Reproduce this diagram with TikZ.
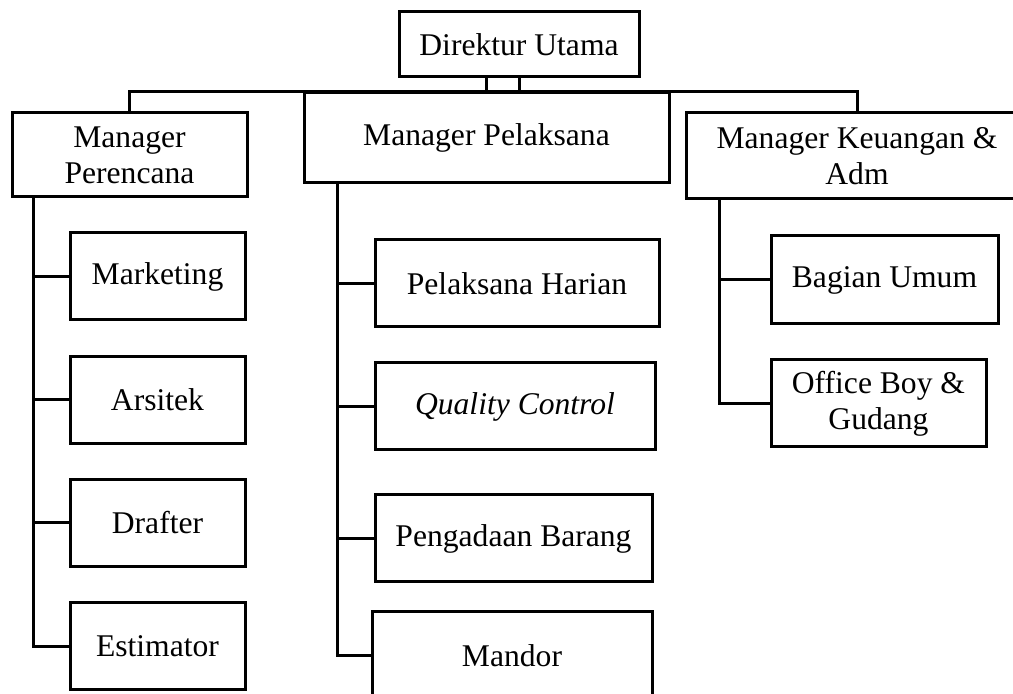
\documentclass[tikz,border=0pt]{standalone}
\usepackage{fontspec}
\setmainfont{Liberation Serif}
\begin{document}
\begin{tikzpicture}[x=0.5pt, y=-0.5pt,
  box/.style={draw, line width=1.5pt, align=center, inner sep=0pt,
    font=\fontsize{15.8}{18}\selectfont},
  link/.style={line width=1.5pt}]
\useasboundingbox (0,0) rectangle (1013,694);
\clip (0,0) rectangle (1013,694);

% top level
\node[box, minimum width=120pt, minimum height=32.5pt] (dir) at (519,44.5) {Direktur Utama};

% managers
\node[box, minimum width=117.5pt, minimum height=42pt] (mper) at (129.5,155) {Manager\\Perencana};
\node[box, minimum width=182.5pt, minimum height=45pt] (mpel) at (486.5,138) {Manager Pelaksana};
\node[box, minimum width=171pt, minimum height=43pt] (mkeu) at (857,156) {Manager Keuangan \&\\Adm};

% staff of perencana
\node[box, minimum width=87.5pt, minimum height=43.5pt] (mkt) at (157.5,276.5) {Marketing};
\node[box, minimum width=87.5pt, minimum height=43.5pt] (ars) at (157.5,400) {Arsitek};
\node[box, minimum width=87.5pt, minimum height=43.5pt] (dra) at (157.5,523) {Drafter};
\node[box, minimum width=87.5pt, minimum height=43.5pt] (est) at (157.5,646.5) {Estimator};

% staff of pelaksana
\node[box, minimum width=142pt, minimum height=43.5pt] (phar) at (517,283.5) {Pelaksana Harian};
\node[box, minimum width=140pt, minimum height=43.5pt] (qc) at (515,406.5) {\itshape Quality Control};
\node[box, minimum width=138.5pt, minimum height=43.5pt] (pbar) at (513.5,538.5) {Pengadaan Barang};
\node[box, minimum width=140pt, minimum height=44pt] (mdr) at (512,656) {Mandor};

% staff of keuangan
\node[box, minimum width=113.5pt, minimum height=44pt] (bum) at (884.5,280) {Bagian Umum};
\node[box, minimum width=107.5pt, minimum height=43.5pt] (ob) at (878.5,403.5) {Office Boy \&\\Gudang};

% bus under the director
\draw[link] (dir.south) -- (dir.south |- mpel.north);
\draw[link] (dir.south -| mpel.north) -- (mpel.north);
\draw[link] (mper.north) -- (mper.north |- mpel.north) -- (mkeu.north |- mpel.north) -- (mkeu.north);

% trunks
\coordinate (tper) at ([xshift=11.5pt]mper.south west);
\coordinate (tpel) at ([xshift=17.5pt]mpel.south west);
\coordinate (tkeu) at ([xshift=17.5pt]mkeu.south west);

\draw[link] (tper) |- (est.west);
\foreach \n in {mkt,ars,dra}
  \draw[link] (tper |- \n.west) -- (\n.west);

\draw[link] (tpel) |- (mdr.west);
\foreach \n in {phar,qc,pbar}
  \draw[link] (tpel |- \n.west) -- (\n.west);

\draw[link] (tkeu) |- (ob.west);
\draw[link] (tkeu |- bum.west) -- (bum.west);

\end{tikzpicture}
\end{document}
